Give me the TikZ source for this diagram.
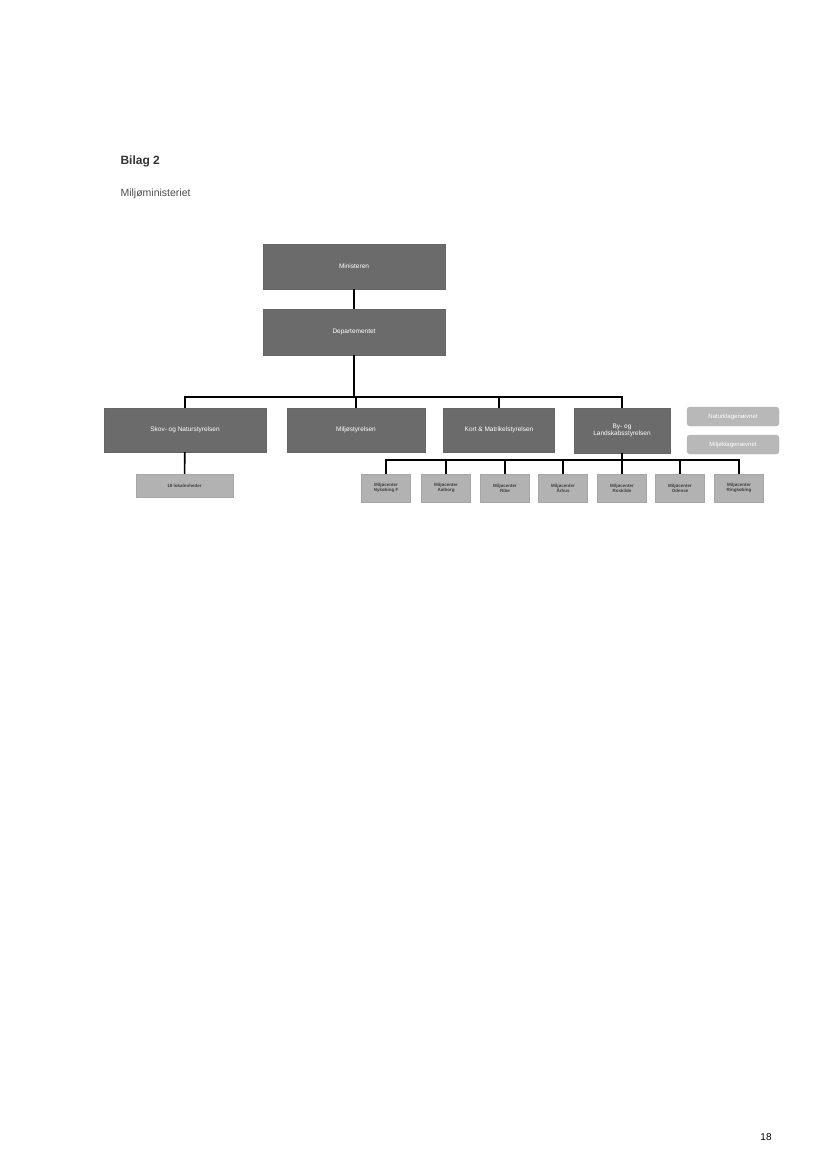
\documentclass[tikz,border=0pt]{standalone}
\usepackage{fontspec}
\setmainfont{Liberation Sans}
\begin{document}
\begin{tikzpicture}[x=1pt,y=-1pt,
  dark/.style={draw=black!60,fill=black!58,text=white,font=\fontsize{6.5}{7.5}\selectfont,align=center,inner sep=0pt},
  lite/.style={draw=black!35,fill=black!30,text=black!75,font=\bfseries\fontsize{4.5}{5.2}\selectfont,align=center,inner sep=0pt},
  klage/.style={draw=black!30,fill=black!28,text=white,rounded corners=3pt,font=\fontsize{6}{7}\selectfont,inner sep=0pt},
  conn/.style={line width=1.6pt}]
\useasboundingbox[fill=white] (0,0) rectangle (827,1170);
\node[anchor=west,font=\bfseries\fontsize{12}{14}\selectfont,text=black!80] (bilag) at (117,161) {Bilag 2};
\node[anchor=west,font=\fontsize{10.5}{12}\selectfont,text=black!70] (mm) at (117,194) {Miljøministeriet};
\node[dark,minimum width=182pt,minimum height=45pt] (min) at (354,266.5) {Ministeren};
\node[dark,minimum width=182pt,minimum height=46pt] (dep) at (354,332) {Departementet};
\node[dark,minimum width=162pt,minimum height=44pt] (skov) at (185,430) {Skov- og Naturstyrelsen};
\node[dark,minimum width=138pt,minimum height=44pt] (mst) at (356,430) {Miljøstyrelsen};
\node[dark,minimum width=111pt,minimum height=44pt] (kort) at (499,430) {Kort \& Matrikelstyrelsen};
\node[dark,minimum width=96pt,minimum height=45pt] (by) at (622,430.5) {By- og\\Landskabsstyrelsen};
\node[klage,minimum width=92pt,minimum height=19pt] (nk) at (733,416.5) {Naturklagenævnet};
\node[klage,minimum width=92pt,minimum height=19pt] (mk) at (733,444.5) {Miljøklagenævnet};
\node[lite,minimum width=97pt,minimum height=23pt] (lok) at (184.5,485.5) {18 lokalenheder};
\foreach \n/\x/\t in {a/386/Nykøbing F,b/446/Aalborg,c/505/Ribe,d/563/Århus,e/622/Roskilde,f/680/Odense,g/739/Ringkøbing}
  \node[lite,minimum width=49pt,minimum height=28pt] (\n) at (\x,488) {Miljøcenter\\\t};
\coordinate (bus) at (354,397);
\draw[conn] (min) -- (dep);
\draw[conn] (dep.south) -- (bus);
\draw[conn] (skov.north) |- (bus) -| (by.north);
\draw[conn] (mst.north) -- (mst.north |- bus);
\draw[conn] (kort.north) -- (kort.north |- bus);
\draw[conn] (skov) -- (lok);
\coordinate (bus2) at (622,460);
\draw[conn] (by.south) -- (bus2);
\draw[conn] (a.north) |- (bus2) -| (g.north);
\foreach \n in {b,c,d,e,f} \draw[conn] (\n.north) -- (\n.north |- bus2);
\node[font=\fontsize{10}{12}\selectfont] (pg) at (766,1137) {18};
\end{tikzpicture}
\end{document}
